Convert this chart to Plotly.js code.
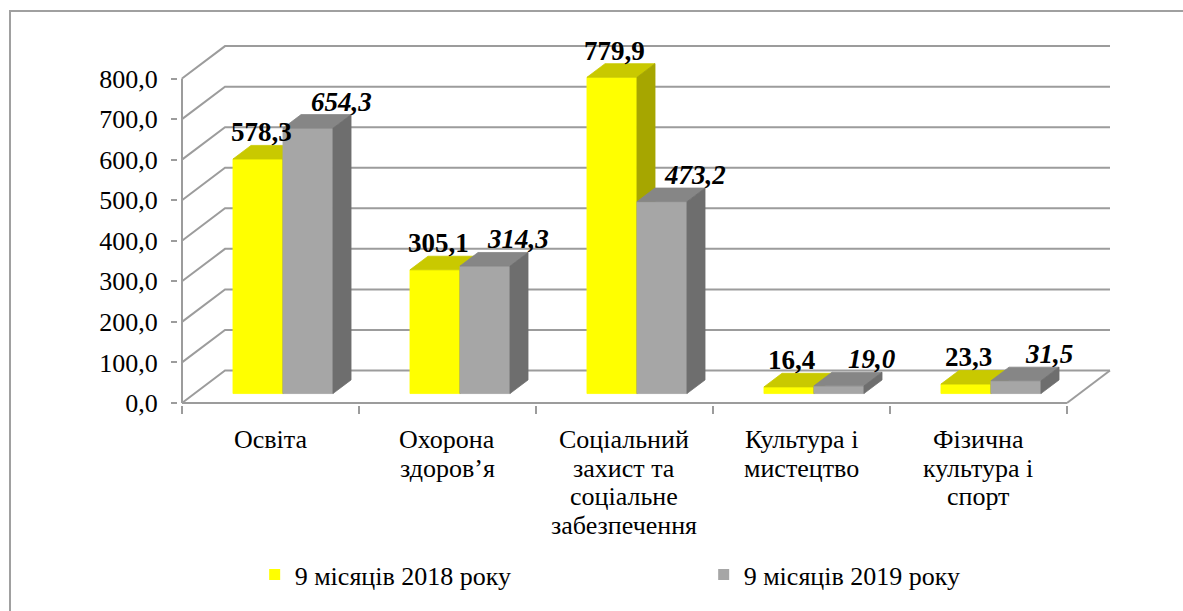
<!DOCTYPE html>
<html><head><meta charset="utf-8">
<script src="https://cdn.plot.ly/plotly-3.0.1.min.js"></script>
<style>
html,body{margin:0;padding:0;background:#fff;overflow:hidden}
#chart{width:1183px;height:611px;position:absolute;left:0;top:0}
#frame{position:absolute;left:9px;top:10px;width:1300px;height:700px;border:2px solid #a0a0a0;pointer-events:none}
</style></head><body>
<div id="chart"></div><div id="frame"></div>
<script>
// ---- data ----
const categories = [
  ["Освіта"],
  ["Охорона", "здоров’я"],
  ["Соціальний", "захист та", "соціальне", "забезпечення"],
  ["Культура і", "мистецтво"],
  ["Фізична", "культура і", "спорт"]
];
const series2018 = [578.3, 305.1, 779.9, 16.4, 23.3];
const series2019 = [654.3, 314.3, 473.2, 19.0, 31.5];
const seriesNames = ["9 місяців 2018 року", "9 місяців 2019 року"];
const yTickVals = [0, 100, 200, 300, 400, 500, 600, 700, 800];
const yTickText = ["0,0", "100,0", "200,0", "300,0", "400,0", "500,0", "600,0", "700,0", "800,0"];

// ---- styling / geometry ----
const FONT = "Liberation Serif, Times New Roman, serif";
const GRID = "#9c9c9c";
const DX = 0.243, DY = 80;     // depth offset of the 3-D box (data units)
const D0 = 0.29, D1 = 0.71;    // bar depth span
const BW = 0.2825;             // bar width (category units)
const N = categories.length;
const colors = [
  {front: "#FFFF00", top: "#C9C900", side: "#A6A600"},
  {front: "#A6A6A6", top: "#868686", side: "#6E6E6E"}
];

function fmt(v){ return v.toFixed(1).replace(".", ","); }
function P(x, y, d){ return [x + d * DX, y + d * DY]; }

const traces = [];

// walls, gridlines, axis lines
const gx = [], gy = [];
function seg(pts){ pts.forEach(p => { gx.push(p[0]); gy.push(p[1]); }); gx.push(null); gy.push(null); }
yTickVals.forEach(v => seg([P(0, v, 0), P(0, v, 1), P(N, v, 1)]));
seg([P(N, 0, 0), P(N, 0, 1)]);
seg([P(0, 0, 0), P(N, 0, 0)]);
seg([P(0, 0, 0), P(0, yTickVals[yTickVals.length - 1], 0)]);
traces.push({x: gx, y: gy, mode: "lines", line: {color: GRID, width: 2}, hoverinfo: "skip", showlegend: false});

// bars
[series2018, series2019].forEach((vals, k) => {
  const f = {front: [[], []], top: [[], []], side: [[], []]};
  vals.forEach((v, i) => {
    const xl = i + 0.5 - BW + k * BW, xr = xl + BW;
    const poly = {
      front: [P(xl, 0, D0), P(xr, 0, D0), P(xr, v, D0), P(xl, v, D0)],
      top:   [P(xl, v, D0), P(xr, v, D0), P(xr, v, D1), P(xl, v, D1)],
      side:  [P(xr, 0, D0), P(xr, 0, D1), P(xr, v, D1), P(xr, v, D0)]
    };
    Object.keys(poly).forEach(key => {
      poly[key].forEach(p => { f[key][0].push(p[0]); f[key][1].push(p[1]); });
      f[key][0].push(poly[key][0][0]); f[key][1].push(poly[key][0][1]);
      f[key][0].push(null); f[key][1].push(null);
    });
  });
  ["front", "top", "side"].forEach(key => {
    traces.push({x: f[key][0], y: f[key][1], mode: "lines", fill: "toself",
      fillcolor: colors[k][key], line: {color: colors[k][key], width: 0.8},
      hoverinfo: "skip", showlegend: false});
  });
});

// legend entries
seriesNames.forEach((name, k) => {
  traces.push({x: [null], y: [null], mode: "markers", name: name,
    marker: {symbol: "square", size: 11, color: colors[k].front}, hoverinfo: "skip"});
});

// annotations: data labels
const annotations = [];
[series2018, series2019].forEach((vals, k) => {
  vals.forEach((v, i) => {
    const xc = i + 0.5 - BW / 2 + k * BW + 0.5 * DX;
    annotations.push({x: xc, y: v + D1 * DY, xref: "x", yref: "y",
      text: "<b>" + (k ? "<i>" + fmt(v) + "</i>" : fmt(v)) + "</b>",
      showarrow: false, yanchor: "middle", xanchor: "center",
      xshift: k ? 24 : -6, yshift: 13, borderpad: 0,
      font: {family: FONT, size: 27, color: "#000"}});
  });
});
// category labels (one per line)
categories.forEach((lines, i) => {
  lines.forEach((ln, j) => {
    annotations.push({x: i + 0.5, y: 0, xref: "x", yref: "y", text: ln,
      showarrow: false, yanchor: "middle", xanchor: "center",
      yshift: -37 - 28.5 * j, font: {family: FONT, size: 26, color: "#000"}});
  });
});

// pixel mapping
const PXX = 177, X0 = 182, PXY = 0.4055, Y0 = 402.7;
const xr0 = -4 / PXX, xr1 = 5.26;
const yr0 = -5, yr1 = 900;
const ml = X0 + xr0 * PXX, mr = 1183 - (X0 + xr1 * PXX);
const mb = 611 - (Y0 - yr0 * PXY), mt = Y0 - yr1 * PXY;

const layout = {
  width: 1183, height: 611, autosize: false,
  margin: {l: ml, r: mr, t: mt, b: mb, pad: 0, autoexpand: false},
  paper_bgcolor: "rgba(0,0,0,0)", plot_bgcolor: "rgba(0,0,0,0)",
  font: {family: FONT, size: 26, color: "#000"},
  xaxis: {range: [xr0, xr1], showgrid: false, zeroline: false, showline: false,
    tickvals: [0, 1, 2, 3, 4, 5], showticklabels: false, ticks: "outside",
    ticklen: 8, tickwidth: 2, tickcolor: GRID, fixedrange: true},
  yaxis: {range: [yr0, yr1], showgrid: false, zeroline: false, showline: false,
    tickvals: yTickVals, ticktext: yTickText, ticks: "outside", ticklen: 6,
    tickwidth: 2, tickcolor: GRID, ticklabelstandoff: 8,
    tickfont: {family: FONT, size: 26, color: "#000"}, fixedrange: true},
  showlegend: true,
  legend: {orientation: "h", x: 0.082, xanchor: "left", y: -0.462, yanchor: "middle",
    entrywidth: 404, entrywidthmode: "pixels", itemwidth: 30,
    font: {family: FONT, size: 26, color: "#000"}, bgcolor: "rgba(0,0,0,0)"},
  annotations: annotations
};

Plotly.newPlot("chart", traces, layout, {displayModeBar: false, staticPlot: true});
</script>
</body></html>
